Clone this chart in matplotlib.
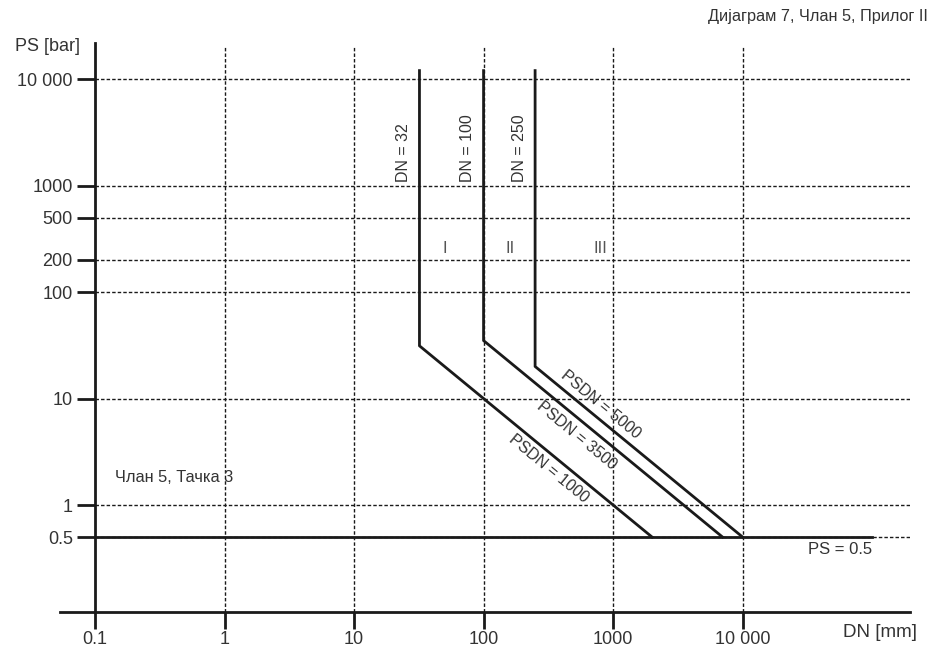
import matplotlib
matplotlib.use("Agg")
import matplotlib.pyplot as plt
import numpy as np

plt.rcParams['font.family'] = ['Liberation Sans', 'DejaVu Sans']

# data
dn_limits = [32, 100, 250]          # vertical boundaries DN
psdn_limits = [1000, 3500, 5000]    # PS*DN boundaries
ps_top = 12000
ps_min = 0.5
ps_line_end = 100000

x_ticks = [0.1, 1, 10, 100, 1000, 10000]
x_labels = ['0.1', '1', '10', '100', '1000', '10 000']
y_ticks = [0.5, 1, 10, 100, 200, 500, 1000, 10000]
y_labels = ['0.5', '1', '10', '100', '200', '500', '1000', '10 000']

categories = ['I', 'II', 'III']
cat_x = [50, 160, 800]
cat_y = 200

psdn_label_pos = [(321, 2.2), (527, 4.5), (800, 8.7)]

line_col = '#1a1a1a'
text_col = '#333333'

fig = plt.figure(figsize=(9.3, 6.51), dpi=100)
ax = fig.add_axes([60/930, 39.5/651, 850/930, 568.5/651])
ax.set_xscale('log')
ax.set_yscale('log')
xmin, xmax = 0.0537, 196000
ymin, ymax = 0.1, 21800
ax.set_xlim(xmin, xmax)
ax.set_ylim(ymin, ymax)

for s in ['top', 'right']:
    ax.spines[s].set_visible(False)
ax.spines['left'].set_position(('data', 0.1))
for s in ['left', 'bottom']:
    ax.spines[s].set_linewidth(2)
    ax.spines[s].set_color(line_col)

ax.set_xticks(x_ticks)
ax.set_xticklabels(x_labels)
ax.set_yticks(y_ticks)
ax.set_yticklabels(y_labels)
ax.minorticks_off()
ax.tick_params(axis='both', direction='out', width=2,
               color=line_col, labelsize=13, labelcolor=text_col)
ax.tick_params(axis='x', length=12, pad=2)
ax.tick_params(axis='y', length=13, pad=3)

# dashed grid
grid_style = dict(color=line_col, lw=1, linestyles=(0, (2.5, 1.5)), zorder=1)
ax.vlines(x_ticks[1:], ymin, 20000, **grid_style)
ax.hlines(y_ticks, 0.1, xmax, **grid_style)

# PS = 0.5 line
ax.plot([0.1, ps_line_end], [ps_min, ps_min], color=line_col, lw=2, zorder=3)

# boundary lines
for dn, psdn in zip(dn_limits, psdn_limits):
    knee = psdn / dn
    end = psdn / ps_min
    ax.plot([dn, dn, end], [ps_top, knee, ps_min], color=line_col, lw=2, zorder=3)
    ax.annotate(f'DN = {dn}', xy=(dn, 1080), xytext=(-6, 0), textcoords='offset points',
                rotation=90, ha='right', va='bottom', fontsize=11.5, color=text_col)

# slope angle of the PS*DN lines on screen
p1 = ax.transData.transform((100, 10))
p2 = ax.transData.transform((1000, 1))
ang = np.degrees(np.arctan2(p2[1] - p1[1], p2[0] - p1[0]))

for psdn, (lx, ly) in zip(psdn_limits, psdn_label_pos):
    ax.text(lx, ly, f'PSDN = {psdn}', rotation=ang, rotation_mode='anchor',
            ha='center', va='center', fontsize=11.5, color=text_col)

for c, cx in zip(categories, cat_x):
    ax.text(cx, cat_y * 1.08, c, ha='center', va='bottom', fontsize=12, color='#555555')

ax.text(0.143, 1.83, 'Члан 5, Тачка 3', ha='left', va='center', fontsize=11.8, color=text_col)
ax.text(ps_line_end, 0.38, 'PS = 0.5', ha='right', va='center', fontsize=12, color=text_col)

fig.text(0.016, 0.928, 'PS [bar]', ha='left', va='center', fontsize=13, color=text_col)
fig.text(0.986, 0.029, 'DN [mm]', ha='right', va='center', fontsize=13.5, color=text_col)
fig.text(0.998, 0.974, 'Дијаграм 7, Члан 5, Прилог II', ha='right', va='center',
         fontsize=11.7, color=text_col)

fig.savefig('out.png', dpi=100)
